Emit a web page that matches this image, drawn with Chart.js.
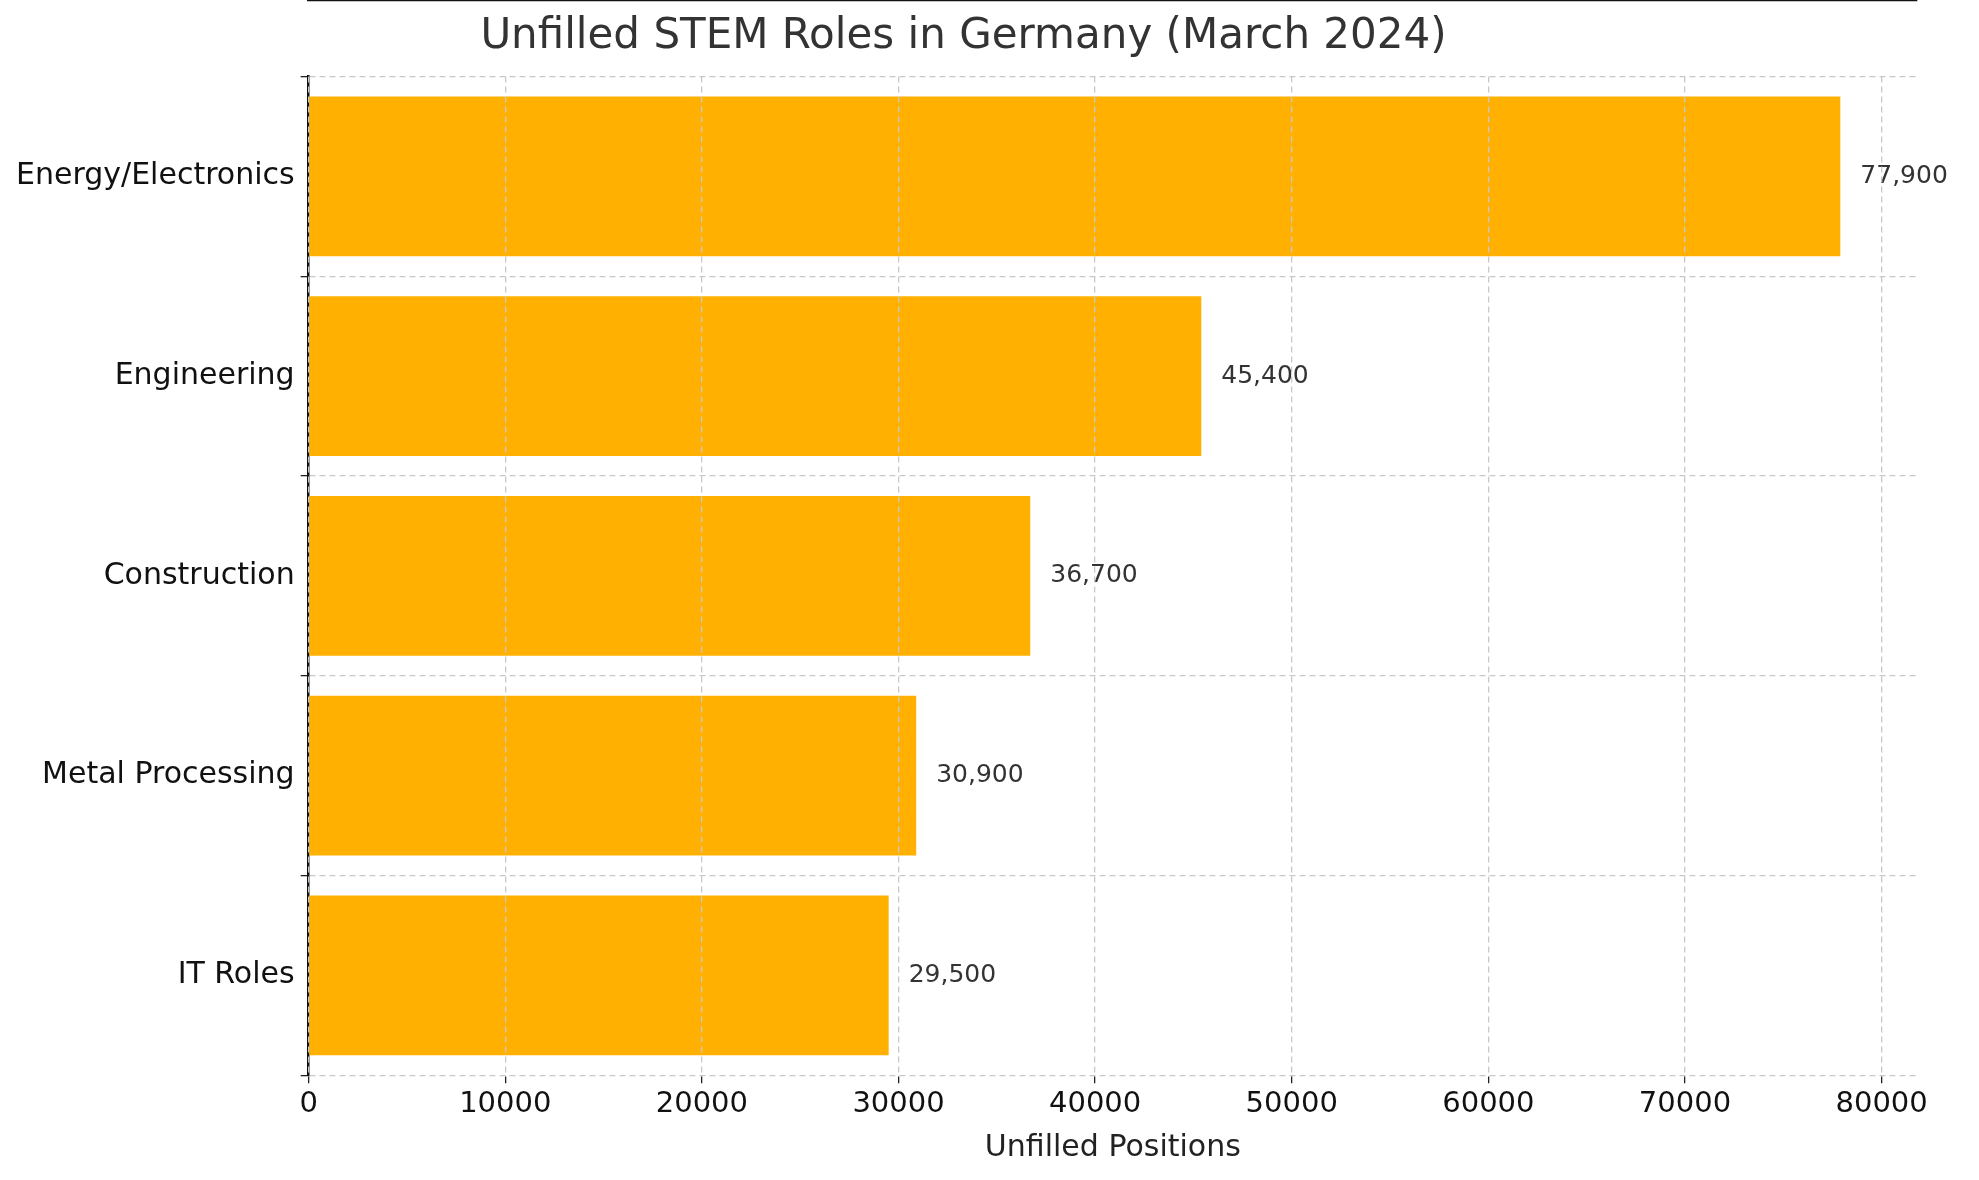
<!DOCTYPE html>
<html>
<head>
<meta charset="utf-8">
<script src="https://cdn.jsdelivr.net/npm/chart.js@4"></script>
<style>
  body { margin: 0; background: #fff; }
</style>
</head>
<body>
<canvas id="my-chart" width="1979" height="1180"></canvas>
<script>
const categories = ["Energy/Electronics", "Engineering", "Construction", "Metal Processing", "IT Roles"];
const positions = [77900, 45400, 36700, 30900, 29500];
const xTicks = [0, 10000, 20000, 30000, 40000, 50000, 60000, 70000, 80000];

const FONT = "DejaVu Sans";

// value labels to the right of each bar
const valueLabels = {
  id: "valueLabels",
  afterDatasetsDraw(chart) {
    const ctx = chart.ctx;
    const meta = chart.getDatasetMeta(0);
    ctx.save();
    ctx.font = "25px 'DejaVu Sans'";
    ctx.fillStyle = "#333333";
    ctx.textAlign = "left";
    ctx.textBaseline = "middle";
    meta.data.forEach((bar, i) => {
      ctx.fillText(positions[i].toLocaleString("en-US"), bar.x + 20, bar.y);
    });
    ctx.restore();
  },
};

new Chart(document.getElementById("my-chart"), {
  type: "bar",
  data: {
    labels: categories,
    datasets: [
      {
        data: positions,
        backgroundColor: "#ffb000",
        categoryPercentage: 1,
        barPercentage: 0.8,
      },
    ],
  },
  options: {
    indexAxis: "y",
    responsive: false,
    animation: false,
    devicePixelRatio: 1,
    layout: { padding: { top: 0, right: 62, bottom: 0, left: 10 } },
    plugins: {
      legend: { display: false },
      tooltip: { enabled: false },
      title: {
        display: true,
        text: "Unfilled STEM Roles in Germany (March 2024)",
        color: "#333333",
        font: { family: FONT, size: 42, weight: "normal" },
        padding: { top: 12, bottom: 14 },
      },
    },
    scales: {
      x: {
        min: 0,
        max: 81800,
        afterBuildTicks(axis) {
          axis.ticks = xTicks.map((v) => ({ value: v }));
        },
        ticks: {
          color: "#111",
          font: { family: FONT, size: 29 },
          padding: 4,
          maxRotation: 0,
          callback: (v) => String(v),
        },
        grid: {
          color: "#c8c8c8",
          lineWidth: 1.3,
          tickLength: 8,
          tickColor: "#222",
          z: 1,
        },
        border: { color: "#111", width: 2.5, dash: [6, 4] },
        title: {
          display: true,
          text: "Unfilled Positions",
          color: "#222",
          font: { family: FONT, size: 30 },
          padding: { top: 4, bottom: 14 },
        },
      },
      y: {
        ticks: {
          color: "#111",
          font: { family: FONT, size: 30 },
          padding: 6,
        },
        grid: {
          color: "#c8c8c8",
          lineWidth: 1.3,
          tickLength: 8,
          tickColor: "#222",
        },
        border: { color: "#111", width: 2.5, dash: [6, 4] },
      },
    },
  },
  plugins: [valueLabels],
});
</script>
</body>
</html>
